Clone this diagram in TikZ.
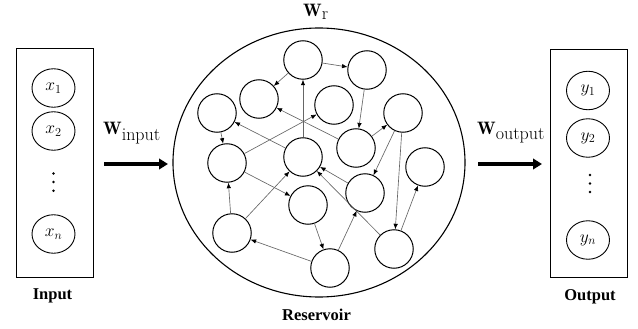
\documentclass[tikz,border=0pt]{standalone}
\usepackage{fix-cm}
\usepackage{fontspec}
\newfontfamily\tnr{Liberation Serif}
\usetikzlibrary{arrows.meta,shapes.geometric}
\begin{document}
\begin{tikzpicture}[x=1pt,y=-1pt,
  rn/.style={circle,draw,line width=1pt,minimum size=38.5pt,inner sep=0pt},
  io/.style={ellipse,draw,line width=0.9pt,minimum width=43pt,minimum height=38.5pt,inner sep=0pt,font=\fontsize{17.5}{20}\selectfont},
  ed/.style={draw=black!60,line width=0.65pt,-{Latex[length=5.5pt,width=4.5pt,color=black]}},
  bigarrow/.style={line width=3.5pt,-{Triangle[length=9pt,width=10.5pt]}},
  lab/.style={font=\tnr\bfseries\fontsize{16.5}{19}\selectfont,inner sep=0pt,anchor=base},
  wl/.style={font=\fontsize{18}{21}\selectfont,inner sep=0pt,anchor=base west},
  dotnode/.style={circle,fill,inner sep=0pt,minimum size=2.6pt}]
\useasboundingbox (0,0) rectangle (638,329);

% input and output boxes
\node[draw,line width=1pt,minimum width=77pt,minimum height=228pt,inner sep=0pt] (inbox) at (54.5,163) {};
\node[draw,line width=1pt,minimum width=77pt,minimum height=227pt,inner sep=0pt] (outbox) at (588.5,163.5) {};

\node[io] (x1) at (53.5,88) {$x_1$};
\node[io] (x2) at (53.5,131) {$x_2$};
\node[io] (xn) at (53.5,234) {$x_n$};
\node[dotnode] (xd1) at (53.5,173.5) {};
\node[dotnode] (xd2) at (53.5,182) {};
\node[dotnode] (xd3) at (53.5,190.7) {};

\node[io] (y1) at (588,90.5) {$y_1$};
\node[io] (y2) at (588,138) {$y_2$};
\node[io] (yn) at (588,240) {$y_n$};
\node[dotnode] (yd1) at (590,175) {};
\node[dotnode] (yd2) at (590,183.5) {};
\node[dotnode] (yd3) at (590,192) {};

\node[lab] (inlab) at (52.5,299) {Input};
\node[lab] (outlab) at (590,300) {Output};
\node[lab] (reslab) at (316.5,320) {Reservoir};

% reservoir
\node[ellipse,draw,line width=1.1pt,minimum width=292pt,minimum height=269pt,inner sep=0pt] (res) at (319,162.5) {};
\node[wl] (wr) at (303,17) {$\mathbf{W}_{\textstyle\mathrm{r}}$};

\node[rn] (n1) at (303,60) {};
\node[rn] (n2) at (367,70) {};
\node[rn] (n3) at (259,99) {};
\node[rn] (n4) at (334,105) {};
\node[rn] (n5) at (217,113) {};
\node[rn] (n6) at (403,113) {};
\node[rn] (n7) at (356,148) {};
\node[rn] (n8) at (303,157) {};
\node[rn] (n9) at (227,163) {};
\node[rn] (n10) at (425,167) {};
\node[rn] (n11) at (365,193) {};
\node[rn] (n12) at (308,205) {};
\node[rn] (n13) at (232,233) {};
\node[rn] (n14) at (394,249) {};
\node[rn] (n15) at (330,268) {};

\draw[ed] (n1) -- (n2);
\draw[ed] (n1) -- (n3);
\draw[ed] (n8) -- (n1);
\draw[ed] (n2) -- (n7);
\draw[ed] (n9) -- (n4);
\draw[ed] (n7) -- (n3);
\draw[ed] (n8) -- (n5);
\draw[ed] (n5) -- (n9);
\draw[ed] (n7) -- (n6);
\draw[ed] (n6) -- (n11);
\draw[ed] (n6) -- (n14);
\draw[ed] (n14) -- (n10);
\draw[ed] (n11) -- (n8);
\draw[ed] (n14) -- (n8);
\draw[ed] (n9) -- (n12);
\draw[ed] (n13) -- (n9);
\draw[ed] (n13) -- (n8);
\draw[ed] (n12) -- (n15);
\draw[ed] (n15) -- (n13);
\draw[ed] (n15) -- (n11);

% weights and big arrows
\node[wl] (win) at (103,135) {$\mathbf{W}_{\textstyle\mathrm{input}}$};
\node[wl] (wout) at (477,135) {$\mathbf{W}_{\textstyle\mathrm{output}}$};
\coordinate (ia) at (104,164);
\coordinate (ib) at (168,164);
\coordinate (oa) at (478,164);
\coordinate (ob) at (542,164);
\draw[bigarrow] (ia) -- (ib);
\draw[bigarrow] (oa) -- (ob);
\end{tikzpicture}
\end{document}
